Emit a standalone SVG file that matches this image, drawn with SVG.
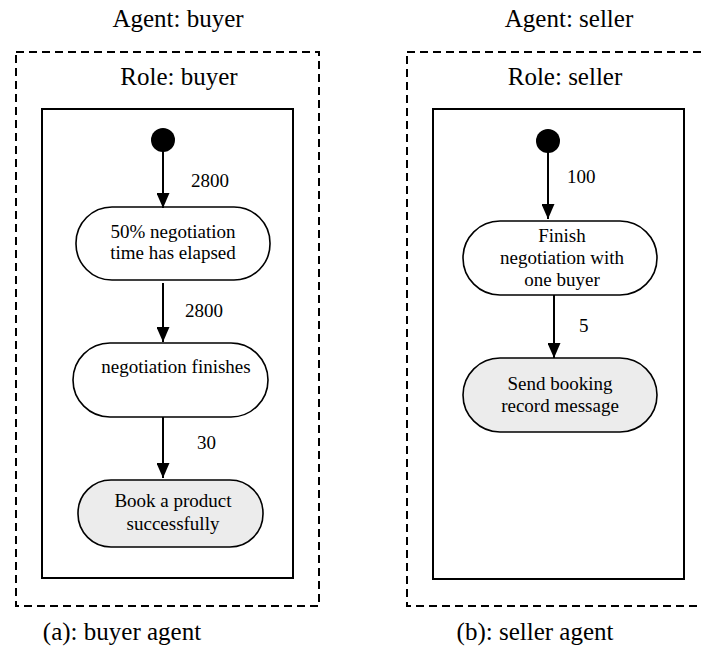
<svg xmlns="http://www.w3.org/2000/svg" width="701" height="656" viewBox="0 0 701 656">
<defs>
<marker id="arr" viewBox="0 0 15 13" refX="15" refY="6.5" markerWidth="15" markerHeight="13" markerUnits="userSpaceOnUse" orient="auto">
<path d="M0,0 L15,6.5 L0,13 Z" fill="#000"/>
</marker>
</defs>
<style>
text{font-family:"Liberation Serif","Times New Roman",serif;fill:#000;text-anchor:middle}
.title{font-size:25px}
.node{font-size:19px}
.lbl{font-size:19px;text-anchor:start}
.dash{fill:none;stroke:#000;stroke-width:2;stroke-dasharray:8 5}
.frame{fill:none;stroke:#000;stroke-width:2}
.st{fill:#fff;stroke:#000;stroke-width:1.6}
.fin{fill:#ececec;stroke:#000;stroke-width:1.6}
.edge{stroke:#000;stroke-width:2;fill:none}
</style>
<rect width="701" height="656" fill="#fff"/>

<g id="buyer-agent">
<text class="title" x="178" y="27">Agent: buyer</text>
<rect class="dash" x="16" y="52" width="303" height="554"/>
<text class="title" x="179" y="85">Role: buyer</text>
<rect class="frame" x="42" y="109" width="251" height="469"/>
<text class="title" x="122" y="640">(a): buyer agent</text>
</g>

<g id="seller-agent">
<text class="title" x="569" y="27">Agent: seller</text>
<rect class="dash" x="407" y="52" width="310" height="554"/>
<text class="title" x="565" y="85">Role: seller</text>
<rect class="frame" x="433" y="109" width="251" height="470"/>
<text class="title" x="535" y="640">(b): seller agent</text>
</g>

<g id="b-start"><circle cx="163" cy="140" r="12" fill="#000"/></g>
<g id="b-n1">
<rect class="st" x="76" y="207" width="194" height="73" rx="36"/>
<text class="node" x="173" y="238">50% negotiation</text>
<text class="node" x="173" y="259">time has elapsed</text>
</g>
<g id="b-n2">
<rect class="st" x="73" y="343" width="195" height="74" rx="37"/>
<text class="node" x="176" y="373">negotiation finishes</text>
</g>
<g id="b-n3">
<rect class="fin" x="78" y="480" width="185" height="67" rx="33"/>
<text class="node" x="173" y="507">Book a product</text>
<text class="node" x="173" y="530">successfully</text>
</g>

<g id="s-start"><circle cx="548" cy="141" r="12" fill="#000"/></g>
<g id="s-n1">
<rect class="st" x="463" y="221" width="194" height="74" rx="37"/>
<text class="node" x="562" y="242">Finish</text>
<text class="node" x="562" y="264">negotiation with</text>
<text class="node" x="562" y="286">one buyer</text>
</g>
<g id="s-n2">
<rect class="fin" x="463" y="358" width="194" height="74" rx="37"/>
<text class="node" x="560" y="390">Send booking</text>
<text class="node" x="560" y="412">record message</text>
</g>

<g id="connectors">
<line class="edge" x1="163" y1="150" x2="163" y2="208" marker-end="url(#arr)"/>
<text class="lbl" x="191" y="187">2800</text>
<line class="edge" x1="163" y1="283" x2="163" y2="342" marker-end="url(#arr)"/>
<text class="lbl" x="185" y="317">2800</text>
<line class="edge" x1="163" y1="417" x2="163" y2="478" marker-end="url(#arr)"/>
<text class="lbl" x="197" y="449">30</text>
<line class="edge" x1="548" y1="151" x2="548" y2="219" marker-end="url(#arr)"/>
<text class="lbl" x="567" y="183">100</text>
<line class="edge" x1="554" y1="295" x2="554" y2="358" marker-end="url(#arr)"/>
<text class="lbl" x="579" y="332">5</text>
</g>
</svg>
